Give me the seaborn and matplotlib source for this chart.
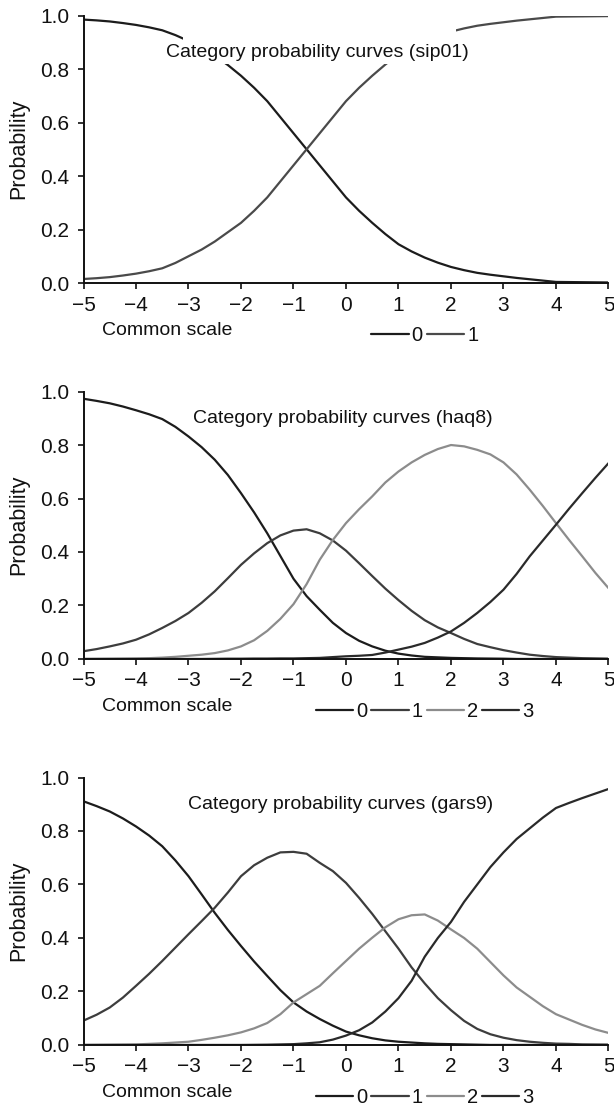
import numpy as np
import pandas as pd
import matplotlib
matplotlib.use("Agg")
import matplotlib.pyplot as plt
from matplotlib.patches import Rectangle
import seaborn as sns

# ---------------- data ----------------
theta = [-5.0, -4.75, -4.5, -4.25, -4.0, -3.75, -3.5, -3.25, -3.0, -2.75, -2.5,
         -2.25, -2.0, -1.75, -1.5, -1.25, -1.0, -0.75, -0.5, -0.25, 0.0,
         0.25, 0.5, 0.75, 1.0, 1.25, 1.5, 1.75, 2.0, 2.25, 2.5,
         2.75, 3.0, 3.25, 3.5, 3.75, 4.0, 4.25, 4.5, 4.75, 5.0]

sip01_cat0 = [0.985, 0.982, 0.978, 0.972, 0.965, 0.956, 0.945, 0.927, 0.905, 0.880, 0.850,
              0.815, 0.775, 0.730, 0.680, 0.620, 0.560, 0.500, 0.440, 0.380, 0.320,
              0.270, 0.225, 0.183, 0.145, 0.118, 0.095, 0.076, 0.060, 0.048, 0.038,
              0.031, 0.025, 0.019, 0.014, 0.009, 0.004, 0.0035, 0.003, 0.0025, 0.002]
sip01_cat1 = [0.015, 0.018, 0.022, 0.028, 0.035, 0.044, 0.055, 0.075, 0.100, 0.125, 0.155,
              0.190, 0.225, 0.270, 0.320, 0.380, 0.440, 0.500, 0.560, 0.620, 0.680,
              0.730, 0.775, 0.817, 0.855, 0.882, 0.905, 0.924, 0.940, 0.952, 0.962,
              0.969, 0.975, 0.981, 0.986, 0.991, 0.996, 0.9965, 0.997, 0.9975, 0.998]

haq8_cat0 = [0.973, 0.965, 0.956, 0.944, 0.930, 0.915, 0.897, 0.868, 0.832, 0.792, 0.745,
             0.688, 0.620, 0.548, 0.470, 0.385, 0.300, 0.235, 0.184, 0.135, 0.097,
             0.068, 0.047, 0.031, 0.020, 0.013, 0.008, 0.006, 0.004, 0.003, 0.002,
             0.0015, 0.001, 0.0, 0.0, 0.0, 0.0, 0.0, 0.0, 0.0, 0.0]
haq8_cat1 = [0.029, 0.037, 0.047, 0.058, 0.072, 0.092, 0.116, 0.142, 0.172, 0.210, 0.253,
             0.302, 0.352, 0.395, 0.433, 0.462, 0.480, 0.485, 0.470, 0.443, 0.405,
             0.358, 0.310, 0.263, 0.220, 0.180, 0.145, 0.118, 0.097, 0.075, 0.056,
             0.044, 0.033, 0.024, 0.016, 0.011, 0.007, 0.005, 0.003, 0.002, 0.001]
haq8_cat2 = [0.0, 0.0005, 0.001, 0.0015, 0.002, 0.003, 0.005, 0.008, 0.012, 0.016, 0.022,
             0.032, 0.047, 0.070, 0.105, 0.150, 0.205, 0.280, 0.371, 0.445, 0.508,
             0.560, 0.608, 0.660, 0.701, 0.735, 0.763, 0.785, 0.800, 0.795, 0.782,
             0.765, 0.735, 0.690, 0.633, 0.572, 0.508, 0.445, 0.384, 0.322, 0.265]
haq8_cat3 = [0.0, 0.0, 0.0, 0.0, 0.0, 0.0, 0.0, 0.0, 0.0, 0.0, 0.0005,
             0.001, 0.001, 0.0015, 0.0015, 0.002, 0.002, 0.003, 0.004, 0.007, 0.010,
             0.012, 0.015, 0.024, 0.035, 0.046, 0.060, 0.080, 0.103, 0.135, 0.172,
             0.213, 0.259, 0.318, 0.384, 0.443, 0.502, 0.562, 0.620, 0.677, 0.732]

gars9_cat0 = [0.911, 0.893, 0.873, 0.847, 0.817, 0.783, 0.743, 0.690, 0.631, 0.563, 0.494,
              0.430, 0.370, 0.312, 0.258, 0.205, 0.159, 0.125, 0.097, 0.072, 0.050,
              0.036, 0.025, 0.017, 0.012, 0.009, 0.006, 0.004, 0.003, 0.002, 0.001,
              0.0, 0.0, 0.0, 0.0, 0.0, 0.0, 0.0, 0.0, 0.0, 0.0]
gars9_cat1 = [0.091, 0.113, 0.140, 0.177, 0.221, 0.266, 0.314, 0.364, 0.414, 0.463, 0.513,
              0.570, 0.631, 0.672, 0.700, 0.720, 0.722, 0.715, 0.681, 0.650, 0.606,
              0.550, 0.490, 0.425, 0.360, 0.290, 0.230, 0.175, 0.130, 0.090, 0.060,
              0.040, 0.027, 0.018, 0.012, 0.008, 0.005, 0.004, 0.002, 0.0015, 0.001]
gars9_cat2 = [0.0, 0.0005, 0.001, 0.0015, 0.002, 0.004, 0.006, 0.009, 0.012, 0.019, 0.027,
              0.036, 0.047, 0.062, 0.082, 0.115, 0.159, 0.190, 0.221, 0.268, 0.314,
              0.360, 0.401, 0.440, 0.470, 0.485, 0.488, 0.465, 0.432, 0.400, 0.360,
              0.310, 0.260, 0.215, 0.180, 0.145, 0.115, 0.095, 0.075, 0.058, 0.045]
gars9_cat3 = [0.0, 0.0, 0.0, 0.0, 0.0, 0.0, 0.0, 0.0, 0.0, 0.0, 0.0,
              0.0, 0.0, 0.0005, 0.001, 0.002, 0.003, 0.006, 0.010, 0.020, 0.035,
              0.055, 0.084, 0.125, 0.175, 0.240, 0.330, 0.400, 0.460, 0.535, 0.600,
              0.665, 0.720, 0.770, 0.810, 0.850, 0.886, 0.905, 0.923, 0.940, 0.957]

x_ticks = [-5, -4, -3, -2, -1, 0, 1, 2, 3, 4, 5]
y_ticks = [0.0, 0.2, 0.4, 0.6, 0.8, 1.0]
titles = ["Category probability curves (sip01)",
          "Category probability curves (haq8)",
          "Category probability curves (gars9)"]
x_label = "Common scale"
y_label = "Probability"

panels = [
    (titles[0], [sip01_cat0, sip01_cat1], ["#1c1c1c", "#4a4a4a"]),
    (titles[1], [haq8_cat0, haq8_cat1, haq8_cat2, haq8_cat3],
     ["#1c1c1c", "#3d3d3d", "#8c8c8c", "#2a2a2a"]),
    (titles[2], [gars9_cat0, gars9_cat1, gars9_cat2, gars9_cat3],
     ["#1c1c1c", "#3d3d3d", "#8c8c8c", "#2a2a2a"]),
]

# ---------------- style ----------------
sns.set_theme(style="ticks")
plt.rcParams["font.family"] = ["Liberation Sans", "DejaVu Sans"]

fig = plt.figure(figsize=(6.14, 11.12), dpi=100)

left, width = 0.136, 0.855
bottoms = [0.7455, 0.4074, 0.0603]
height = 0.2405

title_y = [0.862, 0.90, 0.90]
title_x = [-0.55, -0.06, -0.10]

for i, (title, curves, colors) in enumerate(panels):
    ax = fig.add_axes([left, bottoms[i], width, height])
    cats = [str(k) for k in range(len(curves))]
    df = pd.concat([
        pd.DataFrame({"theta": theta, "prob": c, "cat": cat})
        for c, cat in zip(curves, cats)
    ], ignore_index=True)
    pal = dict(zip(cats, colors))
    sns.lineplot(data=df, x="theta", y="prob", hue="cat", palette=pal,
                 hue_order=cats, linewidth=1.6, ax=ax, legend=False,
                 estimator=None, sort=True)

    ax.set_xlim(-5, 5)
    ax.set_ylim(0, 1)
    ax.set_xticks(x_ticks)
    ax.set_yticks(y_ticks)
    ax.set_yticklabels([f"{v:.1f}" for v in y_ticks])
    ax.set_xlabel("")
    ax.set_ylabel(y_label, fontsize=15.5, color="#111111")
    ax.yaxis.set_label_coords(-0.104, 0.5)
    ax.tick_params(axis="both", labelsize=15, colors="#111111",
                   length=4, width=1.2, direction="out")
    ax.tick_params(axis="x", pad=5)
    ax.tick_params(axis="y", pad=6)
    for s in ["top", "right"]:
        ax.spines[s].set_visible(False)
    for s in ["left", "bottom"]:
        ax.spines[s].set_color("#111111")
        ax.spines[s].set_linewidth(1.4)

    if i == 0:
        ax.add_patch(Rectangle((-3.1, 0.82), 5.2, 0.135, transform=ax.transData,
                               facecolor="white", edgecolor="none", zorder=3))
    ax.text(title_x[i], title_y[i], title, ha="center", va="center",
            fontsize=14, color="#111111", zorder=4)

    ax.text(0.035, -0.178, x_label, transform=ax.transAxes, ha="left",
            va="center", fontsize=14, color="#111111")

    handles = ax.get_lines()[:len(cats)]
    leg = ax.legend(handles, cats, loc="center", bbox_to_anchor=(0.65, -0.195),
                    ncol=len(cats), frameon=False, fontsize=14.5,
                    handlelength=1.85, handletextpad=0.15, columnspacing=0.2,
                    borderpad=0, borderaxespad=0)
    for t in leg.get_texts():
        t.set_color("#111111")

fig.savefig("out.png", dpi=100)
